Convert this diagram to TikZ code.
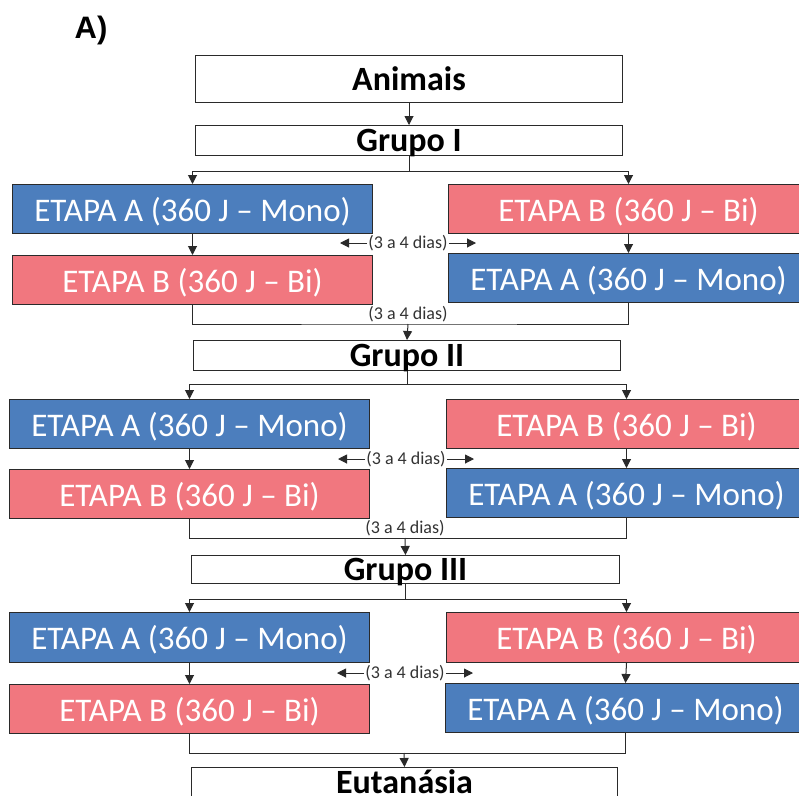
\documentclass[tikz,border=0pt]{standalone}
\usepackage{fontspec}
\setmainfont{Carlito}
\newfontfamily\labfont{Liberation Sans}
\usetikzlibrary{arrows.meta}
\definecolor{blu}{HTML}{4C7EBD}
\definecolor{rd}{HTML}{F1777F}
\definecolor{edge}{HTML}{2A2A2A}
\tikzset{
  base/.style={draw=edge, line width=1pt, inner sep=0pt, anchor=north west, text depth=0pt, align=center},
  whitebox/.style={base, fill=white, font=\fontsize{34}{36}\selectfont\bfseries},
  etA/.style={base, fill=blu, text=white, font=\fontsize{33}{36}\selectfont, minimum width=360pt, minimum height=49pt},
  etB/.style={base, fill=rd, text=white, font=\fontsize{33}{36}\selectfont, minimum width=360pt, minimum height=49pt},
  arr/.style={draw=edge, line width=1pt, -{Triangle[length=9pt,width=9pt]}},
  lin/.style={draw=edge, line width=1pt},
  dias/.style={font=\fontsize{18}{20}\selectfont, text=black!80, inner sep=1pt}
}
\begin{document}
\begin{tikzpicture}[x=1pt,y=-1pt]
\clip (0,0) rectangle (799,795);
\fill[white] (0,0) rectangle (799,795);
\node[font=\labfont\bfseries\fontsize{31}{33}\selectfont, inner sep=0pt] (lab) at (91,30) {A)};
% top
\node[whitebox, minimum width=427pt, minimum height=47pt] (anim) at (195,55) {Animais};
\node[whitebox, minimum width=427pt, minimum height=30pt] (g1) at (195,125) {Grupo I};
% group I
\node[etA] (L1A) at (12,184) {ETAPA A (360 J – Mono)};
\node[etB] (L1B) at (12,255) {ETAPA B (360 J – Bi)};
\node[etB] (R1B) at (448,184) {ETAPA B (360 J – Bi)};
\node[etA] (R1A) at (448,253) {ETAPA A (360 J – Mono)};
\node[dias] (d1) at (408,243) {(3 a 4 dias)};
\coordinate (d1l) at (340,243);
\coordinate (d1r) at (476,243);
\coordinate (j1) at (408,324);
\node[dias, anchor=south] (e1) at (408,323) {(3 a 4 dias)};
\node[whitebox, minimum width=427pt, minimum height=30pt] (g2) at (193,340) {Grupo II};
% group II
\node[etA] (L2A) at (9,399) {ETAPA A (360 J – Mono)};
\node[etB] (L2B) at (9,469) {ETAPA B (360 J – Bi)};
\node[etB] (R2B) at (446,399) {ETAPA B (360 J – Bi)};
\node[etA] (R2A) at (446,468) {ETAPA A (360 J – Mono)};
\node[dias] (d2) at (406,459) {(3 a 4 dias)};
\coordinate (d2l) at (338,459);
\coordinate (d2r) at (474,459);
\coordinate (j2) at (405,538);
\node[dias, anchor=south] (e2) at (405,537) {(3 a 4 dias)};
\node[whitebox, minimum width=428pt, minimum height=28pt] (g3) at (191,555) {Grupo III};
% group III
\node[etA, minimum height=50pt] (L3A) at (9,612) {ETAPA A (360 J – Mono)};
\node[etB] (L3B) at (9,684) {ETAPA B (360 J – Bi)};
\node[etB, minimum height=50pt] (R3B) at (446,612) {ETAPA B (360 J – Bi)};
\node[etA] (R3A) at (445,683) {ETAPA A (360 J – Mono)};
\node[dias] (d3) at (405,673) {(3 a 4 dias)};
\coordinate (d3l) at (337,673);
\coordinate (d3r) at (473,673);
\coordinate (j3) at (404,753);
\node[whitebox, minimum width=426pt, minimum height=29pt] (eut) at (191,767) {Eutanásia};
% connectors
\draw[arr] (anim.south) -- (g1.north);
\draw[arr] (g1.south) -- ++(0,15) -| (L1A.north);
\draw[arr] (g1.south) -- ++(0,15) -| (R1B.north);
\draw[arr] (L1A.south) -- (L1B.north);
\draw[arr] (R1B.south) -- (R1A.north);
\draw[arr] (d1.west) -- (d1l);
\draw[arr] (d1.east) -- (d1r);
\draw[lin] (L1B.south) |- (j1) -| (R1A.south);
\draw[arr] (j1) -- (g2.north);
\draw[arr] (g2.south) -- ++(0,13) -| (L2A.north);
\draw[arr] (g2.south) -- ++(0,13) -| (R2B.north);
\draw[arr] (L2A.south) -- (L2B.north);
\draw[arr] (R2B.south) -- (R2A.north);
\draw[arr] (d2.west) -- (d2l);
\draw[arr] (d2.east) -- (d2r);
\draw[lin] (L2B.south) |- (j2) -| (R2A.south);
\draw[arr] (j2) -- (g3.north);
\draw[arr] (g3.south) -- ++(0,15) -| (L3A.north);
\draw[arr] (g3.south) -- ++(0,15) -| (R3B.north);
\draw[arr] (L3A.south) -- (L3B.north);
\draw[arr] (R3B.south) -- (R3A.north);
\draw[arr] (d3.west) -- (d3l);
\draw[arr] (d3.east) -- (d3r);
\draw[lin] (L3B.south) |- (j3) -| (R3A.south);
\draw[arr] (j3) -- (eut.north);
\end{tikzpicture}
\end{document}
